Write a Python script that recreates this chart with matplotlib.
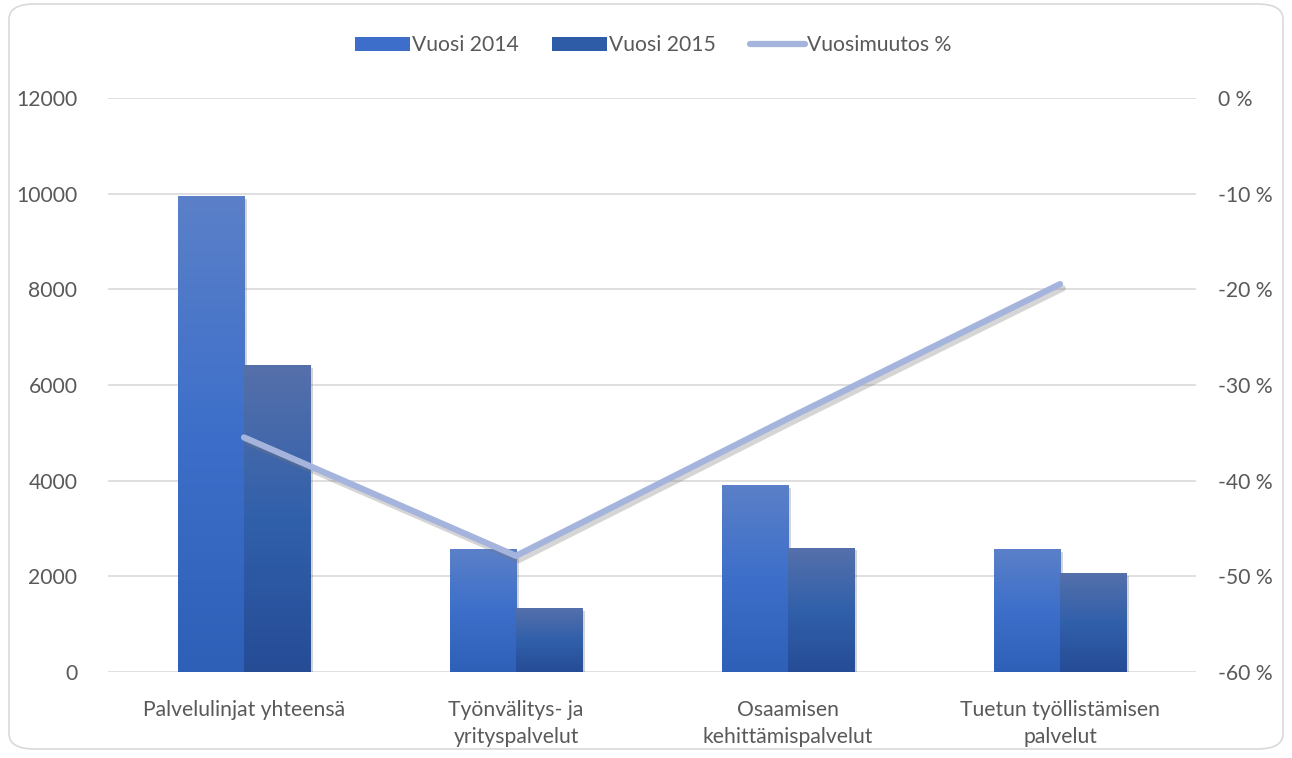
import numpy as np
import matplotlib.pyplot as plt
from matplotlib.patches import FancyBboxPatch, Patch
from matplotlib.lines import Line2D
from matplotlib.colors import LinearSegmentedColormap
import matplotlib.patheffects as pe

plt.rcParams['font.family'] = ['Lato', 'DejaVu Sans']

categories = ['Palvelulinjat yhteensä', 'Työnvälitys- ja\nyrityspalvelut',
              'Osaamisen\nkehittämispalvelut', 'Tuetun työllistämisen\npalvelut']
v2014 = [9950, 2570, 3910, 2570]
v2015 = [6420, 1340, 2600, 2070]
change = [6420 / 9950 * 100 - 100, 1340 / 2570 * 100 - 100,
          2600 / 3910 * 100 - 100, 2070 / 2570 * 100 - 100]

txt = '#595959'
fs = 15.2
fig = plt.figure(figsize=(12.92, 7.58), dpi=100)
ax = fig.add_axes([108 / 1292, 1 - 672 / 758, 1088 / 1292, 574 / 758])
ax2 = ax.twinx()

# rounded outer frame
frame = FancyBboxPatch((9 / 1292, 9 / 758), 1274 / 1292, 745 / 758,
                       boxstyle='round,pad=0,rounding_size=0.02',
                       transform=fig.transFigure, fc='none', ec='#d9d9d9', lw=1.2)
fig.patches.append(frame)

x = np.arange(len(categories))
w = 0.243
cm14 = LinearSegmentedColormap.from_list('c14', ['#2f60b8', '#3d6fca', '#5b80c8'])
cm15 = LinearSegmentedColormap.from_list('c15', ['#264c96', '#3160ab', '#5670aa'])
grad = np.linspace(0, 1, 256).reshape(-1, 1)

def gradient_bars(xs, vals, cmap):
    bars = ax.bar(xs, vals, w, color=cmap(0.5), zorder=2,
                  path_effects=[pe.SimplePatchShadow(offset=(2, -2), shadow_rgbFace='#888888', alpha=0.35), pe.Normal()])
    for b in bars:
        im = ax.imshow(grad, cmap=cmap, aspect='auto', origin='lower', zorder=3,
                       extent=[b.get_x(), b.get_x() + b.get_width(), 0, b.get_height()])
        im.set_clip_path(b)
    return bars

gradient_bars(x - w / 2, v2014, cm14)
gradient_bars(x + w / 2, v2015, cm15)

ax.set_xlim(-0.5, 3.5)
ax.set_ylim(0, 12000)
ax.set_yticks(np.arange(0, 12001, 2000))
ax.grid(axis='y', color='#d9d9d9', lw=1.2, zorder=0)
ax.set_axisbelow(True)
ax.set_xticks(x)
ax.set_xticklabels(categories, color=txt, fontsize=fs, linespacing=1.45)
ax.tick_params(axis='both', length=0, labelsize=fs, labelcolor=txt)
ax.tick_params(axis='x', pad=20)
ax.tick_params(axis='y', pad=22)
for s in ax.spines.values():
    s.set_visible(False)

ax2.plot(x, change, color='#a5b4dc', lw=4.5, solid_capstyle='round',
         path_effects=[pe.SimpleLineShadow(offset=(2, -3), shadow_color='#777777', alpha=0.3), pe.Normal()])
ax2.set_ylim(-60, 0)
ax2.set_yticks(np.arange(-60, 1, 10))
ax2.set_yticklabels([f'{v} %' for v in range(-60, 1, 10)])
ax2.tick_params(axis='y', length=0, labelsize=fs, labelcolor=txt, pad=16)
for s in ax2.spines.values():
    s.set_visible(False)

handles = [Patch(facecolor=cm14(0.5)), Patch(facecolor=cm15(0.4)),
           Line2D([], [], color='#a5b4dc', lw=4.5, solid_capstyle='round')]
labels = ['Vuosi 2014', 'Vuosi 2015', 'Vuosimuutos %']
fig.legend(handles, labels, loc='center', bbox_to_anchor=(653 / 1292, 1 - 45 / 758), ncol=3,
           frameon=False, fontsize=fs, labelcolor=txt, handlelength=2.6, handleheight=0.65,
           handletextpad=0.1, columnspacing=1.6)

fig.savefig('out.png', dpi=100)
